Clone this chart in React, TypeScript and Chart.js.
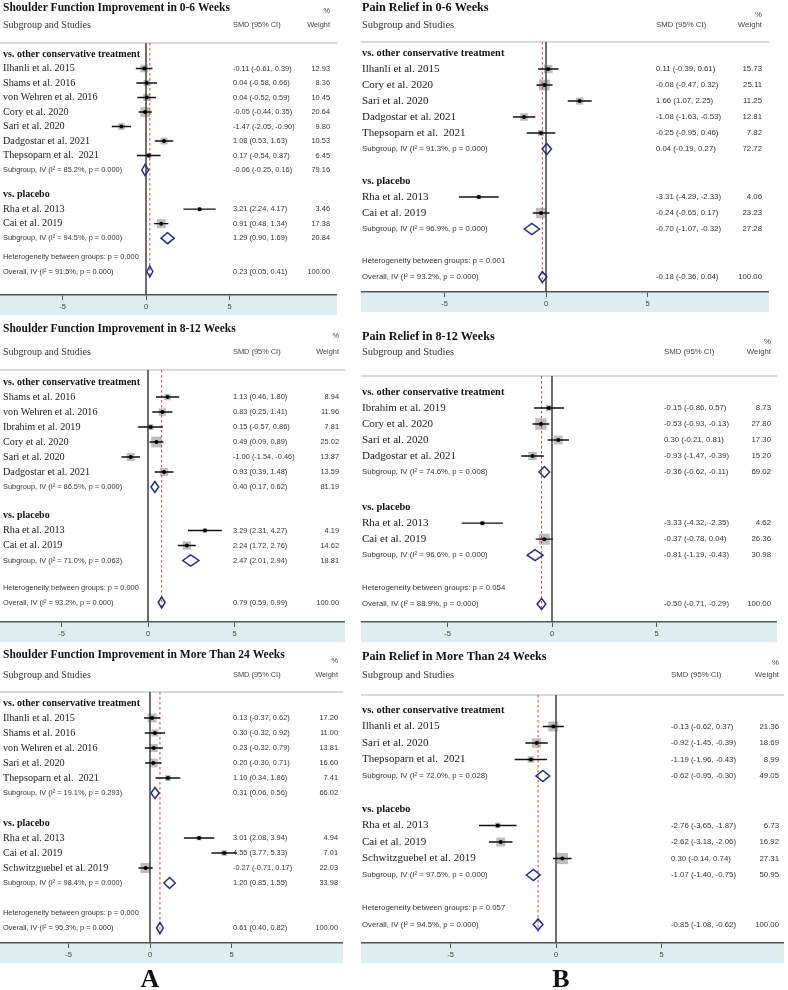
import React, { useEffect, useRef } from 'react';
import { Chart, registerables } from 'chart.js';
Chart.register(...registerables);

const groupLabels = ['vs. other conservative treatment', 'vs. placebo'];
const tickValues = [-5, 0, 5];

// ---- A1: Shoulder function 0-6 weeks
const a1Title = 'Shoulder Function Improvement in 0-6 Weeks';
const a1Studies = ['Ilhanli et al. 2015', 'Shams et al. 2016', 'von Wehren et al. 2016', 'Cory et al. 2020', 'Sari et al. 2020', 'Dadgostar et al. 2021', 'Thepsoparn et al.  2021', 'Rha et al. 2013', 'Cai et al. 2019'];
const a1Group = [0, 0, 0, 0, 0, 0, 0, 1, 1];
const a1Smd = [-0.11, 0.04, 0.04, -0.05, -1.47, 1.08, 0.17, 3.21, 0.91];
const a1Low = [-0.61, -0.58, -0.52, -0.44, -2.05, 0.53, -0.54, 2.24, 0.48];
const a1High = [0.39, 0.66, 0.59, 0.35, -0.90, 1.63, 0.87, 4.17, 1.34];
const a1Weight = [12.93, 8.36, 10.45, 20.64, 9.80, 10.53, 6.45, 3.46, 17.38];
const a1SumSmd = [-0.06, 1.29, 0.23];
const a1SumLow = [-0.25, 0.90, 0.05];
const a1SumHigh = [0.16, 1.69, 0.41];
const a1SumWeight = [79.16, 20.84, 100.0];
const a1SumI2 = [85.2, 94.5, 91.5];
const a1SumP = [0.0, 0.0, 0.0];
const a1HetP = 0.0;

// ---- A2: Shoulder function 8-12 weeks
const a2Title = 'Shoulder Function Improvement in 8-12 Weeks';
const a2Studies = ['Shams et al. 2016', 'von Wehren et al. 2016', 'Ibrahim et al. 2019', 'Cory et al. 2020', 'Sari et al. 2020', 'Dadgostar et al. 2021', 'Rha et al. 2013', 'Cai et al. 2019'];
const a2Group = [0, 0, 0, 0, 0, 0, 1, 1];
const a2Smd = [1.13, 0.83, 0.15, 0.49, -1.0, 0.93, 3.29, 2.24];
const a2Low = [0.46, 0.25, -0.57, 0.09, -1.54, 0.39, 2.31, 1.72];
const a2High = [1.8, 1.41, 0.86, 0.89, -0.46, 1.48, 4.27, 2.76];
const a2Weight = [8.94, 11.96, 7.81, 25.02, 13.87, 13.59, 4.19, 14.62];
const a2SumSmd = [0.4, 2.47, 0.79];
const a2SumLow = [0.17, 2.01, 0.59];
const a2SumHigh = [0.62, 2.94, 0.99];
const a2SumWeight = [81.19, 18.81, 100.0];
const a2SumI2 = [86.5, 71.0, 93.2];
const a2SumP = [0.0, 0.063, 0.0];
const a2HetP = 0.0;

// ---- A3: Shoulder function > 24 weeks
const a3Title = 'Shoulder Function Improvement in More Than 24 Weeks';
const a3Studies = ['Ilhanli et al. 2015', 'Shams et al. 2016', 'von Wehren et al. 2016', 'Sari et al. 2020', 'Thepsoparn et al.  2021', 'Rha et al. 2013', 'Cai et al. 2019', 'Schwitzguebel et al. 2019'];
const a3Group = [0, 0, 0, 0, 0, 1, 1, 1];
const a3Smd = [0.13, 0.3, 0.23, 0.2, 1.1, 3.01, 4.55, -0.27];
const a3Low = [-0.37, -0.32, -0.32, -0.3, 0.34, 2.08, 3.77, -0.71];
const a3High = [0.62, 0.92, 0.79, 0.71, 1.86, 3.94, 5.33, 0.17];
const a3Weight = [17.2, 11.0, 13.81, 16.6, 7.41, 4.94, 7.01, 22.03];
const a3SumSmd = [0.31, 1.2, 0.61];
const a3SumLow = [0.06, 0.85, 0.4];
const a3SumHigh = [0.56, 1.55, 0.82];
const a3SumWeight = [66.02, 33.98, 100.0];
const a3SumI2 = [19.1, 98.4, 95.3];
const a3SumP = [0.293, 0.0, 0.0];
const a3HetP = 0.0;

// ---- B1: Pain relief 0-6 weeks
const b1Title = 'Pain Relief in 0-6 Weeks';
const b1Studies = ['Ilhanli et al. 2015', 'Cory et al. 2020', 'Sari et al. 2020', 'Dadgostar et al. 2021', 'Thepsoparn et al.  2021', 'Rha et al. 2013', 'Cai et al. 2019'];
const b1Group = [0, 0, 0, 0, 0, 1, 1];
const b1Smd = [0.11, -0.08, 1.66, -1.08, -0.25, -3.31, -0.24];
const b1Low = [-0.39, -0.47, 1.07, -1.63, -0.95, -4.29, -0.65];
const b1High = [0.61, 0.32, 2.25, -0.53, 0.46, -2.33, 0.17];
const b1Weight = [15.73, 25.11, 11.25, 12.81, 7.82, 4.06, 23.23];
const b1SumSmd = [0.04, -0.7, -0.18];
const b1SumLow = [-0.19, -1.07, -0.36];
const b1SumHigh = [0.27, -0.32, 0.04];
const b1SumWeight = [72.72, 27.28, 100.0];
const b1SumI2 = [91.3, 96.9, 93.2];
const b1SumP = [0.0, 0.0, 0.0];
const b1HetP = 0.001;

// ---- B2: Pain relief 8-12 weeks
const b2Title = 'Pain Relief in 8-12 Weeks';
const b2Studies = ['Ibrahim et al. 2019', 'Cory et al. 2020', 'Sari et al. 2020', 'Dadgostar et al. 2021', 'Rha et al. 2013', 'Cai et al. 2019'];
const b2Group = [0, 0, 0, 0, 1, 1];
const b2Smd = [-0.15, -0.53, 0.3, -0.93, -3.33, -0.37];
const b2Low = [-0.86, -0.93, -0.21, -1.47, -4.32, -0.78];
const b2High = [0.57, -0.13, 0.81, -0.39, -2.35, 0.04];
const b2Weight = [8.73, 27.8, 17.3, 15.2, 4.62, 26.36];
const b2SumSmd = [-0.36, -0.81, -0.5];
const b2SumLow = [-0.62, -1.19, -0.71];
const b2SumHigh = [-0.11, -0.43, -0.29];
const b2SumWeight = [69.02, 30.98, 100.0];
const b2SumI2 = [74.6, 96.6, 88.9];
const b2SumP = [0.008, 0.0, 0.0];
const b2HetP = 0.054;

// ---- B3: Pain relief > 24 weeks
const b3Title = 'Pain Relief in More Than 24 Weeks';
const b3Studies = ['Ilhanli et al. 2015', 'Sari et al. 2020', 'Thepsoparn et al.  2021', 'Rha et al. 2013', 'Cai et al. 2019', 'Schwitzguebel et al. 2019'];
const b3Group = [0, 0, 0, 1, 1, 1];
const b3Smd = [-0.13, -0.92, -1.19, -2.76, -2.62, 0.3];
const b3Low = [-0.62, -1.45, -1.96, -3.65, -3.18, -0.14];
const b3High = [0.37, -0.39, -0.43, -1.87, -2.06, 0.74];
const b3Weight = [21.36, 18.69, 8.99, 6.73, 16.92, 27.31];
const b3SumSmd = [-0.62, -1.07, -0.85];
const b3SumLow = [-0.95, -1.4, -1.08];
const b3SumHigh = [-0.3, -0.75, -0.62];
const b3SumWeight = [49.05, 50.95, 100.0];
const b3SumI2 = [72.0, 97.5, 94.5];
const b3SumP = [0.028, 0.0, 0.0];
const b3HetP = 0.057;

type PanelData = {
  title: string; studies: string[]; group: number[]; smd: number[]; low: number[]; high: number[]; weight: number[];
  sumSmd: number[]; sumLow: number[]; sumHigh: number[]; sumWeight: number[]; sumI2: number[]; sumP: number[]; hetP: number;
};

const mk = (title: string, studies: string[], group: number[], smd: number[], low: number[], high: number[], weight: number[],
  sumSmd: number[], sumLow: number[], sumHigh: number[], sumWeight: number[], sumI2: number[], sumP: number[], hetP: number): PanelData =>
  ({ title, studies, group, smd, low, high, weight, sumSmd, sumLow, sumHigh, sumWeight, sumI2, sumP, hetP });

const panelA1 = mk(a1Title, a1Studies, a1Group, a1Smd, a1Low, a1High, a1Weight, a1SumSmd, a1SumLow, a1SumHigh, a1SumWeight, a1SumI2, a1SumP, a1HetP);
const panelA2 = mk(a2Title, a2Studies, a2Group, a2Smd, a2Low, a2High, a2Weight, a2SumSmd, a2SumLow, a2SumHigh, a2SumWeight, a2SumI2, a2SumP, a2HetP);
const panelA3 = mk(a3Title, a3Studies, a3Group, a3Smd, a3Low, a3High, a3Weight, a3SumSmd, a3SumLow, a3SumHigh, a3SumWeight, a3SumI2, a3SumP, a3HetP);
const panelB1 = mk(b1Title, b1Studies, b1Group, b1Smd, b1Low, b1High, b1Weight, b1SumSmd, b1SumLow, b1SumHigh, b1SumWeight, b1SumI2, b1SumP, b1HetP);
const panelB2 = mk(b2Title, b2Studies, b2Group, b2Smd, b2Low, b2High, b2Weight, b2SumSmd, b2SumLow, b2SumHigh, b2SumWeight, b2SumI2, b2SumP, b2HetP);
const panelB3 = mk(b3Title, b3Studies, b3Group, b3Smd, b3Low, b3High, b3Weight, b3SumSmd, b3SumLow, b3SumHigh, b3SumWeight, b3SumI2, b3SumP, b3HetP);

// ---- layout (page pixel geometry only)
type Layout = {
  left: number; right: number; top: number; titleY: number; pctY: number; headY: number; lineY: number; axisY: number;
  zeroX: number; unit: number; row0Y: number; pitch: number; gapGroup: number; gapHet: number;
  nameX: number; smdX: number; wtX: number;
  titleSize: number; nameSize: number; groupSize: number; headSize: number; smallSize: number;
};
const aFont = { nameX: 3, smdX: 233, titleSize: 11.5, nameSize: 10.2, groupSize: 10, headSize: 10, smallSize: 7.4 };
const bFont = { nameX: 362, titleSize: 12.2, nameSize: 11, groupSize: 10.4, headSize: 10.5, smallSize: 7.8 };
const layA1: Layout = { ...aFont, left: 0, right: 337, top: 0, titleY: 8, pctY: 11, headY: 25, lineY: 43, axisY: 295, zeroX: 146, unit: 16.7, row0Y: 54, pitch: 14.5, gapGroup: 0.7, gapHet: 0.3, wtX: 330 };
const layA2: Layout = { ...aFont, left: 0, right: 345, top: 318, titleY: 329, pctY: 336, headY: 352, lineY: 370, axisY: 622, zeroX: 148, unit: 17.3, row0Y: 382, pitch: 15, gapGroup: 0.9, gapHet: 0.8, wtX: 339 };
const layA3: Layout = { ...aFont, left: 0, right: 343, top: 645, titleY: 655, pctY: 661, headY: 675, lineY: 692, axisY: 943, zeroX: 150, unit: 16.3, row0Y: 703, pitch: 15, gapGroup: 1, gapHet: 1, wtX: 338 };
const layB1: Layout = { ...bFont, left: 361, right: 769, top: 0, titleY: 8, pctY: 15, headY: 25, lineY: 42, axisY: 292, zeroX: 546, unit: 20.3, row0Y: 53, pitch: 16, gapGroup: 1, gapHet: 1, smdX: 656, wtX: 762 };
const layB2: Layout = { ...bFont, left: 361, right: 777, top: 326, titleY: 337, pctY: 342, headY: 352, lineY: 376, axisY: 622, zeroX: 552, unit: 20.9, row0Y: 392, pitch: 16, gapGroup: 1.2, gapHet: 1.05, smdX: 664, wtX: 771 };
const layB3: Layout = { ...bFont, left: 361, right: 784, top: 645, titleY: 657, pctY: 663, headY: 675, lineY: 695, axisY: 943, zeroX: 556, unit: 21.1, row0Y: 710, pitch: 16.5, gapGroup: 1, gapHet: 1, smdX: 671, wtX: 779 };

const SERIF = '"Liberation Serif", "Times New Roman", serif';
const SANS = '"Liberation Sans", Arial, sans-serif';
const BAND_H = 20;
const fmt2 = (v: number) => v.toFixed(2);
const ciText = (e: number, lo: number, hi: number) => `${fmt2(e)} (${fmt2(lo)}, ${fmt2(hi)})`;

function ForestPanel({ d, L }: { d: PanelData; L: Layout }) {
  const ref = useRef<HTMLCanvasElement | null>(null);
  const W = L.right - L.left;
  const H = L.axisY + BAND_H + 2 - L.top;

  useEffect(() => {
    // row positions (in row units)
    const studyRow: number[] = [];
    const sumRow: number[] = [];
    const groupRow: number[] = [];
    let y = 0;
    for (let g = 0; g < 2; g++) {
      if (g === 1) y += L.gapGroup;
      groupRow[g] = y; y += 1;
      d.group.forEach((gg, i) => { if (gg === g) { studyRow[i] = y; y += 1; } });
      sumRow[g] = y; y += 1;
    }
    y += L.gapHet;
    const hetRow = y; y += 1;
    sumRow[2] = y;

    const ymin = (L.lineY - L.row0Y) / L.pitch;
    const ymax = (L.axisY - L.row0Y) / L.pitch;
    const xmin = (L.left - L.zeroX) / L.unit;
    const xmax = (L.right - L.zeroX) / L.unit;
    const dh = 5.5 / L.pitch;

    const squares = d.smd.map((v, i) => ({ x: v, y: studyRow[i] }));
    const sqR = d.weight.map((w) => (2.15 * Math.sqrt(w)) / Math.SQRT2);
    const ci: any[] = [];
    d.smd.forEach((_, i) => {
      ci.push({ x: d.low[i], y: studyRow[i] }, { x: d.high[i], y: studyRow[i] }, { x: d.high[i], y: null });
    });
    const dia: any[] = [];
    d.sumSmd.forEach((e, k) => {
      const r = sumRow[k];
      dia.push({ x: d.sumLow[k], y: r }, { x: e, y: r - dh }, { x: d.sumHigh[k], y: r }, { x: e, y: r + dh }, { x: d.sumLow[k], y: r }, { x: e, y: r - dh }, { x: e, y: null });
    });

    const textPlugin = {
      id: 'forestText',
      beforeDraw(chart: any) {
        const { ctx, chartArea: a } = chart;
        ctx.save();
        ctx.fillStyle = '#ffffff';
        ctx.fillRect(0, 0, chart.width, chart.height);
        ctx.fillStyle = '#deedf0';
        ctx.fillRect(a.left, a.bottom, a.right - a.left, BAND_H);
        ctx.strokeStyle = '#cccccc';
        ctx.lineWidth = 1.5;
        ctx.beginPath();
        ctx.moveTo(a.left, a.top);
        ctx.lineTo(a.right, a.top);
        ctx.stroke();
        ctx.restore();
      },
      afterDraw(chart: any) {
        const ctx = chart.ctx;
        const ys = chart.scales.y;
        const X = (px: number) => px - L.left;
        const Y = (py: number) => py - L.top;
        ctx.save();
        ctx.textBaseline = 'middle';
        ctx.textAlign = 'left';
        ctx.fillStyle = '#111';
        ctx.font = `bold ${L.titleSize}px ${SERIF}`;
        ctx.fillText(d.title, X(L.nameX), Y(L.titleY));
        ctx.font = `${L.headSize}px ${SERIF}`;
        ctx.fillStyle = '#333';
        ctx.fillText('Subgroup and Studies', X(L.nameX), Y(L.headY));
        ctx.font = `${L.smallSize}px ${SANS}`;
        ctx.fillStyle = '#444';
        ctx.fillText('SMD (95% CI)', X(L.smdX), Y(L.headY));
        ctx.textAlign = 'right';
        ctx.fillText('Weight', X(L.wtX), Y(L.headY));
        ctx.fillText('%', X(L.wtX), Y(L.pctY));

        // group headers
        ctx.textAlign = 'left';
        ctx.fillStyle = '#111';
        ctx.font = `bold ${L.groupSize}px ${SERIF}`;
        groupRow.forEach((r, g) => ctx.fillText(groupLabels[g], X(L.nameX), ys.getPixelForValue(r)));
        // studies
        d.studies.forEach((s, i) => {
          const py = ys.getPixelForValue(studyRow[i]);
          ctx.textAlign = 'left';
          ctx.fillStyle = '#1a1a1a';
          ctx.font = `${L.nameSize}px ${SERIF}`;
          ctx.fillText(s, X(L.nameX), py);
          ctx.fillStyle = '#333';
          ctx.font = `${L.smallSize}px ${SANS}`;
          ctx.fillText(ciText(d.smd[i], d.low[i], d.high[i]), X(L.smdX), py);
          ctx.textAlign = 'right';
          ctx.fillText(fmt2(d.weight[i]), X(L.wtX), py);
        });
        // summaries
        ctx.font = `${L.smallSize}px ${SANS}`;
        ctx.fillStyle = '#333';
        d.sumSmd.forEach((e, k) => {
          const py = ys.getPixelForValue(sumRow[k]);
          const lbl = `${k === 2 ? 'Overall' : 'Subgroup'}, IV (I\u00B2 = ${d.sumI2[k].toFixed(1)}%, p = ${d.sumP[k].toFixed(3)})`;
          ctx.textAlign = 'left';
          ctx.fillText(lbl, X(L.nameX), py);
          ctx.fillText(ciText(e, d.sumLow[k], d.sumHigh[k]), X(L.smdX), py);
          ctx.textAlign = 'right';
          ctx.fillText(fmt2(d.sumWeight[k]), X(L.wtX), py);
        });
        ctx.textAlign = 'left';
        ctx.fillText(`Heterogeneity between groups: p = ${d.hetP.toFixed(3)}`, X(L.nameX), ys.getPixelForValue(hetRow));
        ctx.restore();
      },
    };

    const chart = new Chart(ref.current as HTMLCanvasElement, {
      type: 'scatter',
      data: {
        datasets: [
          {
            type: 'scatter', data: squares, order: 6, pointStyle: 'rect',
            pointRadius: (c: any) => sqR[c.dataIndex] ?? 0,
            backgroundColor: 'rgba(135,135,135,0.55)', borderWidth: 0,
          } as any,
          {
            type: 'line', data: [{ x: 0, y: ymin }, { x: 0, y: ymax }], order: 5,
            borderColor: '#4a4a4a', borderWidth: 1.6, pointRadius: 0, fill: false,
          } as any,
          {
            type: 'line', data: [{ x: d.sumSmd[2], y: ymin }, { x: d.sumSmd[2], y: sumRow[2] + 0.45 }], order: 4,
            borderColor: '#c8463c', borderWidth: 1, borderDash: [2.5, 2.5], pointRadius: 0, fill: false,
          } as any,
          {
            type: 'line', data: ci, order: 3, borderColor: '#111', borderWidth: 1.3, pointRadius: 0, fill: false, spanGaps: false,
          } as any,
          {
            type: 'line', data: dia, order: 2, borderColor: '#25307c', borderWidth: 1.5, pointRadius: 0, fill: false, spanGaps: false,
            borderJoinStyle: 'miter',
          } as any,
          {
            type: 'scatter', data: squares, order: 1, pointStyle: 'circle', pointRadius: 2,
            backgroundColor: '#000', borderWidth: 0,
          } as any,
        ],
      },
      options: {
        animation: false,
        responsive: false,
        maintainAspectRatio: false,
        devicePixelRatio: 1,
        events: [],
        layout: { autoPadding: false, padding: { left: 0, right: 0, top: L.lineY - L.top, bottom: H - (L.axisY - L.top) - BAND_H } },
        plugins: { legend: { display: false }, tooltip: { enabled: false } },
        scales: {
          x: {
            type: 'linear', min: xmin, max: xmax, position: 'bottom',
            afterBuildTicks: (s: any) => { s.ticks = tickValues.map((v) => ({ value: v })); },
            afterFit: (s: any) => { s.height = BAND_H; },
            grid: { drawOnChartArea: false, drawTicks: true, tickLength: 5, color: '#555', lineWidth: 1 },
            border: { display: true, color: '#555', width: 1.5 },
            ticks: { font: { family: SANS, size: 7.5 }, color: '#444', padding: 2, maxRotation: 0, autoSkip: false },
          },
          y: { type: 'linear', display: false, reverse: true, min: ymin, max: ymax },
        },
      } as any,
      plugins: [textPlugin as any],
    });
    return () => chart.destroy();
  }, []);

  return (
    <canvas
      ref={ref}
      width={W}
      height={H}
      style={{ position: 'absolute', left: L.left, top: L.top, width: W, height: H }}
    />
  );
}

export default function App() {
  const letter: React.CSSProperties = {
    position: 'absolute', fontFamily: SERIF, fontWeight: 'bold', fontSize: 26, lineHeight: '26px',
    transform: 'translate(-50%, -50%)', color: '#111',
  };
  return (
    <div style={{ position: 'absolute', left: 0, top: 0, width: 788, height: 990, background: '#fff', overflow: 'hidden' }}>
      <ForestPanel d={panelA1} L={layA1} />
      <ForestPanel d={panelA2} L={layA2} />
      <ForestPanel d={panelA3} L={layA3} />
      <ForestPanel d={panelB1} L={layB1} />
      <ForestPanel d={panelB2} L={layB2} />
      <ForestPanel d={panelB3} L={layB3} />
      <div style={{ ...letter, left: 150, top: 979 }}>A</div>
      <div style={{ ...letter, left: 561, top: 979 }}>B</div>
    </div>
  );
}
